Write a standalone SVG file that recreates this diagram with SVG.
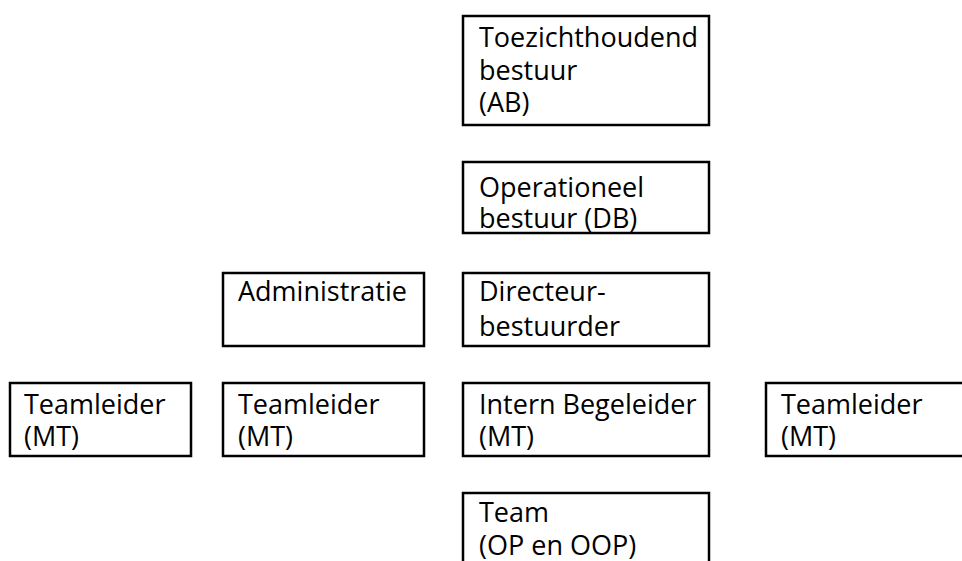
<svg xmlns="http://www.w3.org/2000/svg" width="962" height="561" viewBox="0 0 962 561">
<style>
.box{fill:#fff;stroke:#000;stroke-width:2.5}
text{font-family:"Open Sans","Noto Sans",sans-serif;font-size:27px;fill:#000}
</style>
<rect width="962" height="561" fill="#fff"/>
<g id="connectors"></g>
<g id="n1"><rect class="box" x="463" y="16" width="246" height="109"/><text x="479" y="47">Toezichthoudend</text><text x="479" y="80">bestuur</text><text x="479" y="112">(AB)</text></g>
<g id="n2"><rect class="box" x="463" y="162" width="246" height="71"/><text x="479" y="197">Operationeel</text><text x="479" y="228">bestuur (DB)</text></g>
<g id="n3"><rect class="box" x="223" y="273" width="201" height="73"/><text x="238" y="301">Administratie</text></g>
<g id="n4"><rect class="box" x="463" y="273" width="246" height="73"/><text x="479" y="301">Directeur-</text><text x="479" y="336">bestuurder</text></g>
<g id="n5"><rect class="box" x="10" y="383" width="181" height="73"/><text x="24" y="414">Teamleider</text><text x="24" y="446">(MT)</text></g>
<g id="n6"><rect class="box" x="223" y="383" width="201" height="73"/><text x="238" y="414">Teamleider</text><text x="238" y="446">(MT)</text></g>
<g id="n7"><rect class="box" x="463" y="383" width="246" height="73"/><text x="479" y="414">Intern Begeleider</text><text x="479" y="446">(MT)</text></g>
<g id="n8"><rect class="box" x="766" y="383" width="220" height="73"/><text x="781" y="414">Teamleider</text><text x="781" y="446">(MT)</text></g>
<g id="n9"><rect class="box" x="463" y="493" width="246" height="90"/><text x="479" y="522">Team</text><text x="479" y="555">(OP en OOP)</text></g>
</svg>
